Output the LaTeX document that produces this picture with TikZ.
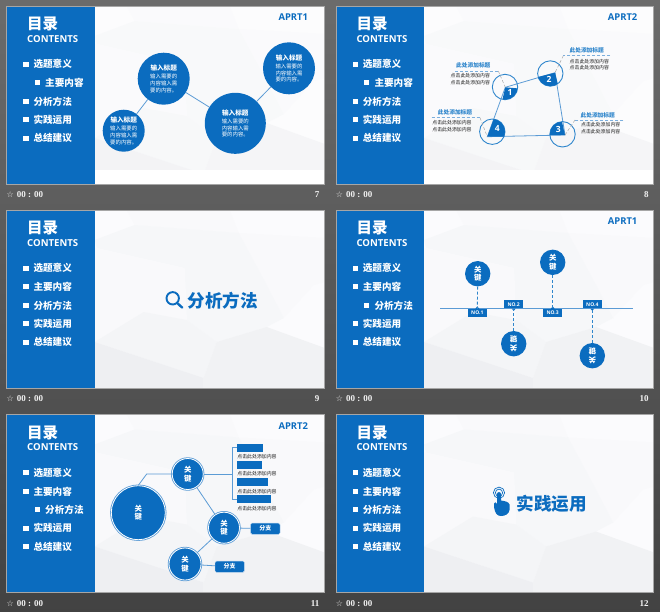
\documentclass[tikz,border=0pt]{standalone}
\usepackage{fontspec}
\setmainfont{Noto Sans CJK SC}
\newfontfamily\latf{Open Sans}
\newfontfamily\serf{Liberation Serif}
\newfontfamily\djvf{DejaVu Sans}
\usetikzlibrary{calc}
\definecolor{mainblue}{HTML}{0B6CBF}
\definecolor{linkblue}{HTML}{5B9BD5}
\definecolor{ringblue}{HTML}{2F86CC}
\definecolor{bgbase}{HTML}{FBFBFD}
\definecolor{bga}{HTML}{F9F9FB}
\definecolor{bgb}{HTML}{F6F7F9}
\definecolor{bgc}{HTML}{F4F5F7}
\definecolor{bgd}{HTML}{F1F2F4}
\definecolor{bge}{HTML}{EEEFF2}
\newcommand\fsz[1]{\fontsize{#1}{#1}\selectfont}
\newcommand\bubfont{\fontsize{5.4}{6.6}\selectfont}
\newcommand\keyfont{\bfseries\fontsize{7.4}{8.8}\selectfont}
\newcommand\bodyfont{\fontsize{4.9}{6.4}\selectfont}
\tikzset{
  x=1pt,y=-1pt,
  bubble/.style={circle,fill=mainblue,text=white,inner sep=0pt,align=center,minimum size=#1,font=\bubfont},
  keydot/.style={circle,fill=mainblue,text=white,inner sep=0pt,align=center,minimum size=#1,font=\keyfont},
  ringdot/.style={circle,fill=mainblue,text=white,inner sep=0pt,align=center,minimum size=#1,font=\keyfont,draw=white,line width=.8pt,preaction={draw=linkblue,line width=2.4pt}},
  ringonly/.style={circle,draw=ringblue,line width=.9pt,inner sep=0pt,minimum size=25.4pt},
  link/.style={draw=linkblue,line width=.8pt},
  leader/.style={draw=gray!70,line width=.5pt,densely dashed},
  headrule/.style={draw=linkblue!80,line width=.5pt,densely dashed},
  headtxt/.style={text=ringblue,font=\bfseries\fsz{5.7},inner sep=0pt},
  bodytxt/.style={text=black!90,font=\bodyfont,inner sep=0pt,align=center},
  numtxt/.style={text=white,font=\latf\bfseries\fsz{8.5},inner sep=0pt},
  notag/.style={fill=mainblue,text=white,font=\latf\bfseries\fsz{5},minimum width=18.7pt,minimum height=8pt,inner sep=0pt},
  barbox/.style={fill=mainblue,inner sep=0pt,anchor=west,minimum height=8pt},
  branch/.style={fill=mainblue,text=white,draw=linkblue!40,line width=.4pt,rounded corners=1.5pt,minimum width=29.4pt,minimum height=11.3pt,inner sep=0pt,font=\bfseries\fsz{6}},
  bigtitle/.style={text=mainblue,font=\bfseries\fsz{17.6},inner sep=0pt},
  menutxt/.style={text=white,font=\bfseries\fsz{9.6},anchor=west,inner sep=0pt},
  menubox/.style={fill=white,minimum size=5.2pt,inner sep=0pt},
  foot/.style={text=white!95!black,inner sep=0pt,font=\serf\bfseries\fsz{9}},
}
\newcommand\bubtext{{\bfseries\fsz{6.6}输入标题}\\[1.6pt]输入需要的\\内容输入需\\要的内容。}
\newcommand\polybg{%
  \fill[bgbase] (88,0) rectangle (318,178);
  \fill[bga] (120,0)--(223,0)--(232,23)--(128,15)--cycle;
  \fill[bgb] (128,15)--(232,23)--(207,47)--(178,58)--(90,38)--(88,30)--cycle;
  \fill[bga] (232,23)--(318,28)--(318,72)--(307,75)--(277,108)--(260,75)--cycle;
  \fill[bgb] (178,58)--(207,47)--(232,23)--(260,75)--(277,108)--(260,117)--(210,132)--(180,110)--cycle;
  \fill[bga] (88,38)--(178,58)--(180,110)--(137,102)--(88,132)--cycle;
  \fill[bgc] (88,132)--(137,102)--(180,110)--(210,132)--(197,168)--cycle;
  \fill[bge] (88,132)--(197,168)--(197,178)--(88,178)--cycle;
  \fill[bgd] (197,168)--(210,132)--(260,117)--(318,138)--(318,178)--(197,178)--cycle;
}
\newcommand\slideframe[7]{% id, x, y, page, indented item, wash, label
\begin{scope}[shift={(#2,#3)}]
  \begin{scope}
    \clip (0,0) rectangle (317.5,178);
    \polybg
    \ifnum#6=1
      \fill[white,opacity=.3] (88,0) rectangle (318,178);
      \fill[white] (88,164) rectangle (318,178);
    \fi
  \end{scope}
  \fill[mainblue] (0,0) rectangle (88.3,178);
  \draw[black!35,line width=.7pt] (0,0) rectangle (317.5,178);
  \node[text=white,font=\bfseries\fsz{15.5},inner sep=0pt] (#1title) at (36,18) {目录};
  \node[text=white,font=\latf\bfseries\fsz{9.6},inner sep=0pt] (#1cont) at (46,33) {CONTENTS};
  \foreach \t [count=\i] in {选题意义,主要内容,分析方法,实践运用,总结建议}{
    \pgfmathsetmacro\yy{58.3+18.5*(\i-1)}
    \ifnum\i=#5
      \node[menubox] (#1b\i) at (30.6,\yy) {};
      \node[menutxt] (#1m\i) at (38.3,\yy) {\t};
    \else
      \node[menubox] (#1b\i) at (19.3,\yy) {};
      \node[menutxt] (#1m\i) at (26.6,\yy) {\t};
    \fi
  }
  \node[foot,font=\djvf\fsz{8}] (#1star) at (3.4,189) {☆};
  \node[foot,anchor=west] (#1time) at (10,189) {00 : 00};
  \node[foot,anchor=east] (#1page) at (312.8,189) {#4};
  \ifx\relax#7\relax\else
    \node[text=mainblue,font=\latf\bfseries\fsz{9.4},inner sep=0pt] (#1apr) at (286.6,11.3) {#7};
  \fi
\end{scope}}
\begin{document}
\begin{tikzpicture}
\useasboundingbox (0,0) rectangle (660,611);
\shade[top color=black!58,bottom color=black!74,middle color=black!66] (0,0) rectangle (660,611);
\slideframe{a}{6.7}{6}{7}{2}{1}{APRT1}
\slideframe{b}{336}{6}{8}{2}{1}{APRT2}
\slideframe{c}{6.7}{210}{9}{0}{0}{}
\slideframe{d}{336}{210}{10}{3}{0}{APRT1}
\slideframe{e}{6.7}{414.5}{11}{3}{0}{APRT2}
\slideframe{f}{336}{414.5}{12}{0}{0}{}

% slide 7
\node[bubble=52pt] (s1) at (163.7,78.7) {\bubtext};
\node[bubble=42pt] (s2) at (123.7,130.7) {\bubtext};
\node[bubble=61pt] (s3) at (235.3,123.3) {\bubtext};
\node[bubble=52pt] (s4) at (289,68.3) {\bubtext};
\draw[link] (s1) -- (s2);
\draw[link] (s1) -- (s3);
\draw[link] (s3) -- (s4);

% slide 8
\coordinate (p1) at (505.3,87.3);
\coordinate (p2) at (555,72.7);
\coordinate (p3) at (565,135);
\coordinate (p4) at (487.3,136.7);
\draw[link] (p1) -- (p2) -- (p3) -- (p4) -- cycle;
\node[ringonly] (r1) at (505,87) {};
\node[ringonly] (r2) at (550.3,73.5) {};
\node[ringonly] (r3) at (562.5,134.3) {};
\node[ringonly] (r4) at (492.3,131.7) {};
\begin{scope}\clip (505,87) circle[radius=12.7pt];
  \fill[mainblue] (p1) -- ($(p1)+(-5:40pt)$) -- ($(p1)+(-54:50pt)$) -- ($(p1)+(-103:40pt)$) -- cycle;\end{scope}
\begin{scope}\clip (550.3,73.5) circle[radius=12.7pt];
  \fill[mainblue] (p2) -- ($(p2)+(194:40pt)$) -- ($(p2)+(240:50pt)$) -- ($(p2)+(284:40pt)$) -- cycle;\end{scope}
\begin{scope}\clip (562.5,134.3) circle[radius=12.7pt];
  \fill[mainblue] (p3) -- ($(p3)+(180:40pt)$) -- ($(p3)+(140:50pt)$) -- ($(p3)+(103:40pt)$) -- cycle;\end{scope}
\begin{scope}\clip (492.3,131.7) circle[radius=12.7pt];
  \fill[mainblue] (p4) -- ($(p4)+(0:40pt)$) -- ($(p4)+(35:50pt)$) -- ($(p4)+(70:40pt)$) -- cycle;\end{scope}
\node[numtxt] (n1) at (510,92.7) {1};
\node[numtxt] (n2) at (549,79) {2};
\node[numtxt] (n3) at (558.3,129.3) {3};
\node[numtxt] (n4) at (497.3,128.3) {4};
\foreach \k/\hx/\hy/\la/\lb/\ly/\bx/\by in {
  1/473.3/65.7/455/498.3/71/470.3/79,
  2/586.7/50.7/563.3/610/55.7/589.3/64.4,
  3/597.7/115.3/575/623.3/120/600.7/128,
  4/455/112.7/431.7/480/117.7/452/126}{
  \node[headtxt] (h\k) at (\hx,\hy) {此处添加标题};
  \coordinate (la\k) at (\la,\ly);
  \coordinate (lb\k) at (\lb,\ly);
  \node[bodytxt] (t\k) at (\bx,\by) {点击此处添加内容\\点击此处添加内容};
}
\draw[headrule] (la1) -- (lb1); \draw[leader] (lb1) -- (p1);
\draw[headrule] (lb2) -- (la2); \draw[leader] (la2) -- (p2);
\draw[headrule] (lb3) -- (la3); \draw[leader] (la3) -- (p3);
\draw[headrule] (la4) -- (lb4); \draw[leader] (lb4) -- (p4);

% slide 9
\node[bigtitle] (ttl9) at (222.7,300.3) {分析方法};
\draw[mainblue,line width=1.9pt] (172.7,298.3) circle[radius=6.2pt];
\draw[mainblue,line width=2.4pt,line cap=round] (177.6,303.4) -- (182.2,307.6);

% slide 10
\coordinate (ax1) at (440,308.7);
\coordinate (ax2) at (633.3,308.7);
\draw[draw=linkblue,line width=1.4pt] (ax1) -- (ax2);
\node[keydot=25.4pt] (k1) at (477.7,273.7) {关\\键};
\node[keydot=25.4pt] (k2) at (552.7,262.3) {关\\键};
\node[keydot=25.4pt,rotate=180] (k3) at (513.7,343.7) {关\\键};
\node[keydot=25.4pt,rotate=180] (k4) at (592.3,355.7) {关\\键};
\node[notag] (no1) at (477.3,313) {NO.1};
\node[notag] (no2) at (513.7,304.3) {NO.2};
\node[notag] (no3) at (552.7,313) {NO.3};
\node[notag] (no4) at (592.3,304.3) {NO.4};
\fill[mainblue] (no1.north)++(-2,0) -- ++(2,-2.4) -- ++(2,2.4) -- cycle;
\fill[mainblue] (no3.north)++(-2,0) -- ++(2,-2.4) -- ++(2,2.4) -- cycle;
\fill[mainblue] (no2.south)++(-2,0) -- ++(2,2.4) -- ++(2,-2.4) -- cycle;
\fill[mainblue] (no4.south)++(-2,0) -- ++(2,2.4) -- ++(2,-2.4) -- cycle;
\draw[draw=ringblue,line width=.9pt,densely dashed] (k1) -- (no1);
\draw[draw=ringblue,line width=.9pt,densely dashed] (k2) -- (no3);
\draw[draw=ringblue,line width=.9pt,densely dashed] (k3) -- (no2);
\draw[draw=ringblue,line width=.9pt,densely dashed] (k4) -- (no4);

% slide 11
\node[ringdot=54pt] (big) at (138.3,512.7) {关\\键};
\node[ringdot=31pt] (m1) at (187.7,474) {关\\键};
\node[ringdot=31pt] (m2) at (224,527.7) {关\\键};
\node[ringdot=32pt] (m3) at (185,564) {关\\键};
\coordinate (elb) at (146.7,474);
\draw[link] (big.north) -- (elb) -- (m1);
\coordinate (jm) at (232.7,474);
\draw[link] (m1) -- (jm);
\node[barbox,minimum width=26.3pt] (b1) at (236.7,447.5) {};
\node[barbox,minimum width=25pt] (b2) at (236.7,465) {};
\node[barbox,minimum width=30.6pt] (b3) at (236.7,482.2) {};
\node[barbox,minimum width=34.3pt] (b4) at (236.7,499) {};
\draw[link] (b1.west) -| (jm) |- (b4.west);
\foreach \k/\yy in {1/456.7,2/474,3/491.3,4/508.3}{
  \node[bodytxt] (bt\k) at (257,\yy) {点击此处添加内容};
}
\draw[link] (m1) -- (m2);
\draw[link] (m2) -- (m3);
\node[branch] (br1) at (265.3,528.7) {分支};
\node[branch] (br2) at (229.7,566.7) {分支};
\draw[link] (m2) -- (br1);
\draw[link] (m3) -- (br2);

% slide 12
\node[bigtitle] (ttl12) at (551.7,504) {实践运用};
\draw[mainblue,line width=.7pt] (499,492.7) circle[radius=5.6pt];
\draw[mainblue,line width=.7pt] (499,492.7) circle[radius=3.6pt];
\fill[mainblue] (497,494) .. controls (497,491.5) and (501,491.5) .. (501,494) -- (501,500.5)
  .. controls (505,501) and (509,502) .. (509.5,504.5) -- (509.5,510)
  .. controls (509,514) and (505,516) .. (501,516)
  .. controls (497,516) and (495,513) .. (494.2,508) -- (494,503.5)
  .. controls (494.5,501.5) and (496,502) .. (497,504) -- cycle;
\end{tikzpicture}
\end{document}
